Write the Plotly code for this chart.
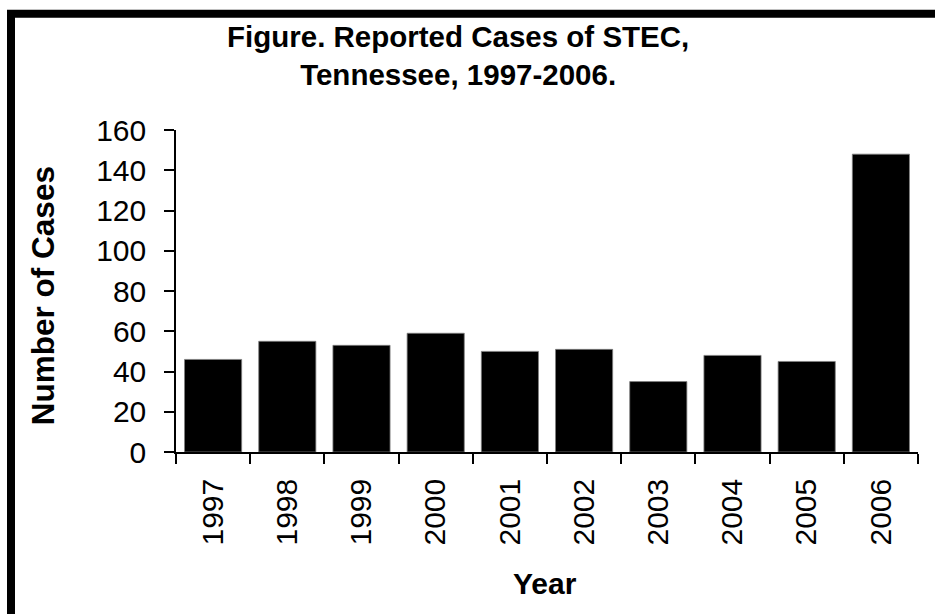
import plotly.graph_objects as go

# Reported STEC cases per year, Tennessee
years = ["1997", "1998", "1999", "2000", "2001", "2002", "2003", "2004", "2005", "2006"]
cases = [46, 55, 53, 59, 50, 51, 35, 48, 45, 148]

y_ticks = [0, 20, 40, 60, 80, 100, 120, 140, 160]

FONT = "Liberation Sans, Arial, Helvetica, sans-serif"

W, H = 935, 614
ML, MR, MT, MB = 176, 17, 130, 162.3
PW = W - ML - MR
PH = H - MT - MB


def px_x(px):
    """Convert a pixel column to paper x."""
    return (px - ML) / PW


def px_y(py):
    """Convert a pixel row to paper y."""
    return (H - MB - py) / PH


fig = go.Figure(
    go.Bar(
        x=years,
        y=cases,
        marker=dict(color="black", line=dict(color="#7f7f7f", width=0.8)),
    )
)

fig.update_layout(
    width=W,
    height=H,
    margin=dict(l=ML, r=MR, t=MT, b=MB, pad=0),
    paper_bgcolor="white",
    plot_bgcolor="white",
    bargap=0.23,
    showlegend=False,
    font=dict(family=FONT, size=30, color="black"),
)

fig.update_xaxes(
    type="category",
    showline=True,
    linecolor="black",
    linewidth=1.5,
    ticks="outside",
    ticklen=10,
    tickwidth=1.5,
    tickcolor="black",
    tickson="boundaries",
    tickangle=-90,
    tickfont=dict(family=FONT, size=30, color="black"),
    ticklabelstandoff=13,
    showgrid=False,
    zeroline=False,
)

fig.update_yaxes(
    range=[0, 160],
    tickvals=y_ticks,
    ticktext=[str(v) for v in y_ticks],
    showline=True,
    linecolor="black",
    linewidth=1.5,
    ticks="outside",
    ticklen=10,
    tickwidth=1.5,
    tickcolor="black",
    tickfont=dict(family=FONT, size=30, color="black"),
    ticklabelstandoff=12,
    showgrid=False,
    zeroline=False,
)

# Heavy frame along the top and left of the figure
fig.add_shape(
    type="rect",
    xref="paper", yref="paper",
    x0=px_x(11), x1=px_x(980),
    y0=px_y(640), y1=px_y(13.8),
    line=dict(color="black", width=8),
    fillcolor="rgba(0,0,0,0)",
    layer="above",
)

# Title
fig.add_annotation(
    text="<b>Figure. Reported Cases of STEC,<br>Tennessee, 1997-2006.</b>",
    xref="paper", yref="paper",
    x=px_x(458), y=px_y(18),
    xanchor="center", yanchor="top",
    showarrow=False,
    font=dict(family=FONT, size=29.5, color="black"),
)

# Axis titles
fig.add_annotation(
    text="<b>Number of Cases</b>",
    xref="paper", yref="paper",
    x=px_x(43), y=px_y(296),
    xanchor="center", yanchor="middle",
    textangle=-90,
    showarrow=False,
    font=dict(family=FONT, size=31.5, color="black"),
)
fig.add_annotation(
    text="<b>Year</b>",
    xref="paper", yref="paper",
    x=px_x(545), y=px_y(583),
    xanchor="center", yanchor="middle",
    showarrow=False,
    font=dict(family=FONT, size=30, color="black"),
)

fig.write_html("out.html")
